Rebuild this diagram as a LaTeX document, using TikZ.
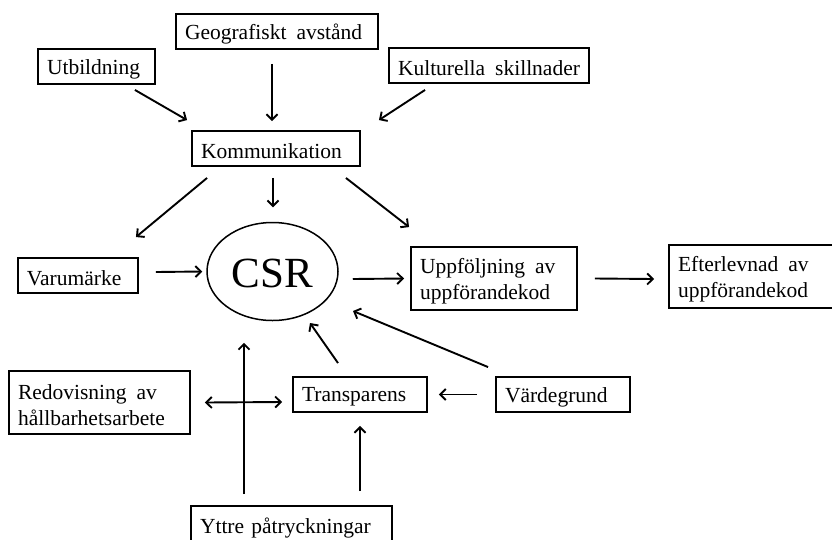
\documentclass[tikz,border=0pt]{standalone}
\usepackage{fontspec}
\setmainfont{Liberation Serif}
\usetikzlibrary{shapes.geometric,arrows.meta}
\newcommand{\ws}{\hspace{10pt}}
\newcommand{\oneline}[1]{\raisebox{-2.5pt}[\height][\depth]{#1}}
\begin{document}
\begin{tikzpicture}[x=1pt,y=-1pt,
  box/.style={draw, line width=1.9pt, rectangle, inner xsep=9pt, inner ysep=0pt,
    align=left, font=\fontsize{21.5}{26.5}\selectfont, anchor=center},
  tip/.tip={Straight Barb[length=5.5pt,width=11pt,line width=1.9pt]},
  arr/.style={line width=1.9pt, -tip},
  dbl/.style={line width=1.9pt, tip-tip}]
\useasboundingbox (0,0) rectangle (832,539);
\fill[white] (0,0) rectangle (832,539);
% nodes
\node[box, minimum width=202pt, minimum height=35pt, text width=184pt] (geo) at (277,31.5) {\oneline{Geografiskt\ws avstånd}};
\node[box, minimum width=117pt, minimum height=35pt, text width=99pt] (utb) at (96.5,66.5) {\oneline{Utbildning}};
\node[box, minimum width=200pt, minimum height=35pt, text width=182pt] (kul) at (489,65.5) {\oneline{Kulturella\ws skillnader}};
\node[box, minimum width=168pt, minimum height=35pt, text width=150pt] (kom) at (276,148.5) {\oneline{Kommunikation}};
\node[box, minimum width=120pt, minimum height=35pt, text width=102pt] (var) at (78,275.5) {\oneline{Varumärke}};
\node[draw, ellipse, line width=1.5pt, minimum width=131pt, minimum height=98pt, inner sep=0pt,
  font=\fontsize{43}{43}\selectfont] (csr) at (272.5,271.5) {\raisebox{-1.5pt}[\height][\depth]{CSR}};
\node[box, minimum width=166pt, minimum height=63pt, text width=148pt] (upp) at (494,278.5) {\oneline{Uppföljning\ws av}\\\oneline{uppförandekod}};
\node[box, minimum width=166pt, minimum height=63pt, text width=148pt] (eft) at (752,276.5) {\oneline{Efterlevnad\ws av}\\\oneline{uppförandekod}};
\node[box, minimum width=181pt, minimum height=63pt, text width=163pt] (red) at (99.5,402.5) {\oneline{Redovisning\ws av}\\\oneline{hållbarhetsarbete}};
\node[box, minimum width=134pt, minimum height=35pt, text width=116pt] (tra) at (360,394.5) {\oneline{Transparens}};
\node[box, minimum width=134pt, minimum height=35pt, text width=116pt] (vdg) at (563,394.5) {\oneline{Värdegrund}};
\node[box, minimum width=201pt, minimum height=39pt, text width=183pt] (ytt) at (291.5,525.5) {\oneline{Yttre påtryckningar}};
% connectors
\draw[arr] ([shift={(-21,5)}]utb.south east) -- ([shift={(-4,-10)}]kom.north west);
\draw[arr] ([shift={(-5,14)}]geo.south) -- ([shift={(-4,-9)}]kom.north);
\draw[arr] ([shift={(37,6)}]kul.south west) -- ([shift={(18,-10)}]kom.north east);
\draw[arr] ([shift={(16,11)}]kom.south west) -- ([shift={(-3,-20)}]var.north east);
\draw[arr] ([shift={(-3,11)}]kom.south) -- ([shift={(0.5,-14.5)}]csr.north);
\draw[arr] ([shift={(-15,11)}]kom.south east) -- ([shift={(-1,-19)}]upp.north west);
\draw[arr] ([shift={(17,-3.5)}]var.east) -- ([shift={(-4,0)}]csr.west);
\draw[arr] ([shift={(14,7.5)}]csr.east) -- ([shift={(-6,0)}]upp.west);
\draw[arr] ([shift={(17,0)}]upp.east) -- ([shift={(-14,2.5)}]eft.west);
\draw[arr] ([shift={(-7,-9)}]vdg.north west) -- ([shift={(80.5,39.5)}]csr.center);
\draw[arr] ([shift={(-22,-13)}]tra.north) -- ([shift={(37.5,51.5)}]csr.center);
\draw[arr] ([shift={(-18,0)}]vdg.west) -- ([shift={(11,0)}]tra.east);
\draw[dbl] ([shift={(14,0)}]red.east) -- ([shift={(-10,7.5)}]tra.west);
\draw[arr] ([shift={(-47.5,-11)}]ytt.north) -- ([shift={(-28.5,21.5)}]csr.south);
\draw[arr] ([shift={(68.5,-14)}]ytt.north) -- ([shift={(0,13)}]tra.south);
\end{tikzpicture}
\end{document}
